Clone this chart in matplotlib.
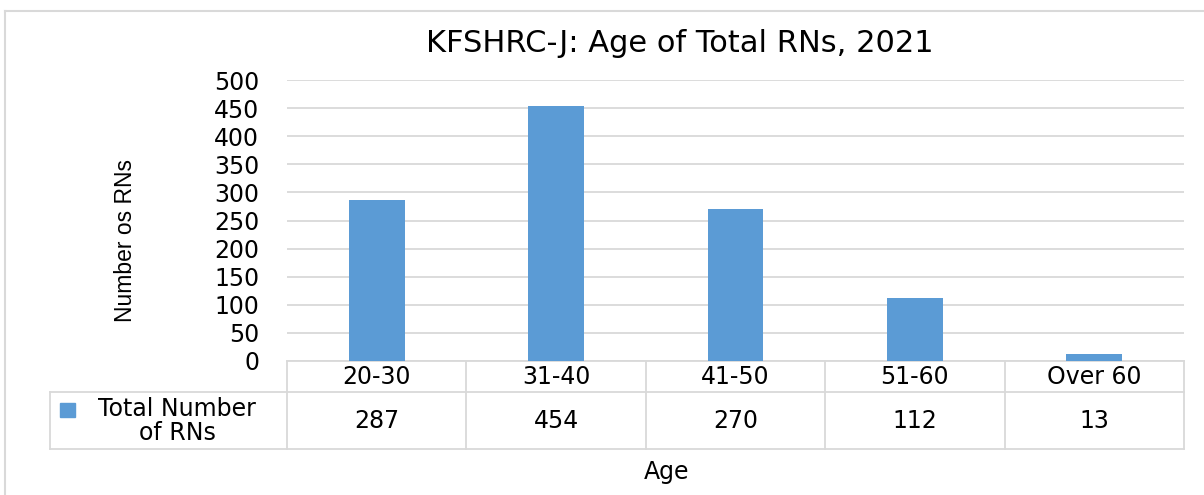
import matplotlib
matplotlib.use('Agg')
import matplotlib.pyplot as plt
from matplotlib.patches import Rectangle
import matplotlib.transforms as mtrans

plt.rcParams['font.family'] = ['DejaVu Sans']

ages = ['20-30', '31-40', '41-50', '51-60', 'Over 60']
nurses = [287, 454, 270, 112, 13]
yticks = [0, 50, 100, 150, 200, 250, 300, 350, 400, 450, 500]
series_name = 'Total Number\nof RNs'

W, H = 1204, 495
fig = plt.figure(figsize=(W / 100, H / 100), dpi=100)
ax = fig.add_axes([287 / W, 1 - 361 / H, (1184 - 287) / W, (361 - 80) / H])

bar_col = '#5B9BD5'
grid_col = '#D9D9D9'
fs = 17
x = list(range(len(ages)))
ax.bar(x, nurses, width=0.31, color=bar_col, zorder=3)
ax.set_xlim(-0.5, len(ages) - 0.5)
ax.set_ylim(0, 500)
ax.set_yticks(yticks)
ax.set_yticklabels([str(v) for v in yticks], fontsize=fs)
ax.tick_params(axis='y', length=0, pad=20)
ax.set_xticks([])
ax.grid(axis='y', color=grid_col, linewidth=1.3, zorder=0)
for s in ax.spines.values():
    s.set_visible(False)

fig.text(680 / W, 1 - 44 / H, 'KFSHRC-J: Age of Total RNs, 2021', fontsize=22,
         ha='center', va='center')

fig.text(125 / W, 1 - 241 / H, 'Number os RNs', rotation=90, fontsize=16.5,
         family='Liberation Sans', ha='center', va='center')

# data table under the axes
tr = mtrans.blended_transform_factory(ax.transData, ax.transAxes)
ah = 281.0
r0, r1, r2 = 0, -31 / ah, -88 / ah
left = -0.5 - (287 - 50) / 179.4
kw = dict(color=grid_col, linewidth=1.3, transform=tr, clip_on=False)
ax.plot([-0.5, 4.5], [r0, r0], **kw)
ax.plot([left, 4.5], [r1, r1], **kw)
ax.plot([left, 4.5], [r2, r2], **kw)
for i in range(len(ages) + 1):
    ax.plot([i - 0.5, i - 0.5], [r0, r2], **kw)
ax.plot([left, left], [r1, r2], **kw)

for i, (a, n) in enumerate(zip(ages, nurses)):
    ax.text(i, (r0 + r1) / 2, a, ha='center', va='center', fontsize=fs, transform=tr)
    ax.text(i, (r1 + r2) / 2, str(n), ha='center', va='center', fontsize=fs, transform=tr)

# legend key + series name
fig.patches.append(Rectangle((60 / W, 1 - 417 / H), 15 / W, 14 / H,
                             transform=fig.transFigure, color=bar_col))
fig.text(177 / W, 1 - 421 / H, series_name, ha='center', va='center',
         fontsize=fs, linespacing=0.95)

fig.text(667 / W, 1 - 472 / H, 'Age', ha='center', va='center', fontsize=fs)

# outer chart border
fig.lines.append(plt.Line2D([5 / W, 5 / W], [0, 1 - 11 / H], color=grid_col,
                            linewidth=1.5, transform=fig.transFigure))
fig.lines.append(plt.Line2D([5 / W, 1], [1 - 11 / H, 1 - 11 / H], color=grid_col,
                            linewidth=1.5, transform=fig.transFigure))

fig.savefig('out.png', dpi=100, facecolor='white')
